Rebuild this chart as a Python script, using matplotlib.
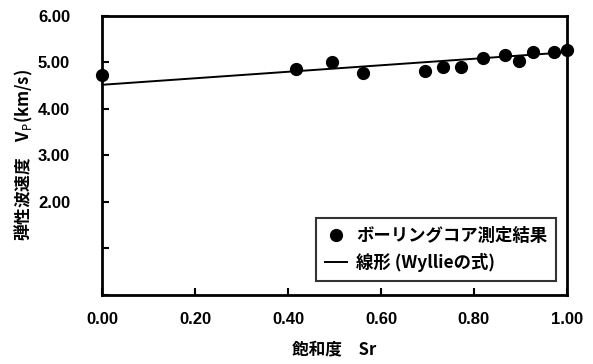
import numpy as np
import matplotlib
matplotlib.use('Agg')
import matplotlib.pyplot as plt

# ボーリングコア測定結果 (飽和度 Sr, Vp km/s)
sr = [0.00, 0.417, 0.495, 0.562, 0.695, 0.734, 0.772, 0.819, 0.867, 0.897, 0.926, 0.973, 1.00]
vp = [4.73, 4.86, 5.00, 4.77, 4.82, 4.91, 4.91, 5.09, 5.16, 5.03, 5.23, 5.22, 5.27]

# 線形 (Wyllieの式) 両端
line_sr = [0.0, 1.0]
line_vp = [4.52, 5.22]

xticks = [0.0, 0.2, 0.4, 0.6, 0.8, 1.0]
yticks = [0, 1, 2, 3, 4, 5, 6]
ytick_labels = ['', '', '2.00', '3.00', '4.00', '5.00', '6.00']

jp = ['Noto Sans CJK JP', 'DejaVu Sans']
num = 'Liberation Sans'

fig = plt.figure(figsize=(5.93, 3.64), dpi=100)
ax = fig.add_axes([0.172, 0.19, 0.784, 0.766])

ax.plot(sr, vp, 'o', color='black', markersize=8.5, label='ボーリングコア測定結果', clip_on=False, zorder=3)
ax.plot(line_sr, line_vp, '-', color='black', linewidth=1.4, label='線形 (Wyllieの式)')

ax.set_xlim(0, 1)
ax.set_ylim(0, 6)
ax.set_xticks(xticks)
ax.set_xticklabels(['%.2f' % v for v in xticks], fontfamily=num, fontweight='bold', fontsize=12)
ax.set_yticks(yticks)
ax.set_yticklabels(ytick_labels, fontfamily=num, fontweight='bold', fontsize=12)
ax.tick_params(direction='in', length=5, width=1.5)
ax.tick_params(axis='x', pad=12)
ax.tick_params(axis='y', pad=23)
for s in ax.spines.values():
    s.set_linewidth(2)

ax.set_xlabel('飽和度　Sr', fontfamily=jp, fontweight='bold', fontsize=12, labelpad=10)
ax.set_ylabel(r'弾性波速度　V$_\mathrm{P}$(km/s)', fontfamily='Noto Sans CJK JP', fontweight='bold',
              fontsize=12)
ax.yaxis.set_label_coords(-0.145, 0.5)

leg = ax.legend(loc='lower right', bbox_to_anchor=(0.995, 0.02), frameon=True, fancybox=False,
                edgecolor='black', handlelength=1.3, handletextpad=0.5, borderpad=0.5,
                labelspacing=0.45, prop={'family': jp, 'weight': 'bold', 'size': 12.5})
leg.get_frame().set_linewidth(1.5)

fig.savefig('out.png', dpi=100)
